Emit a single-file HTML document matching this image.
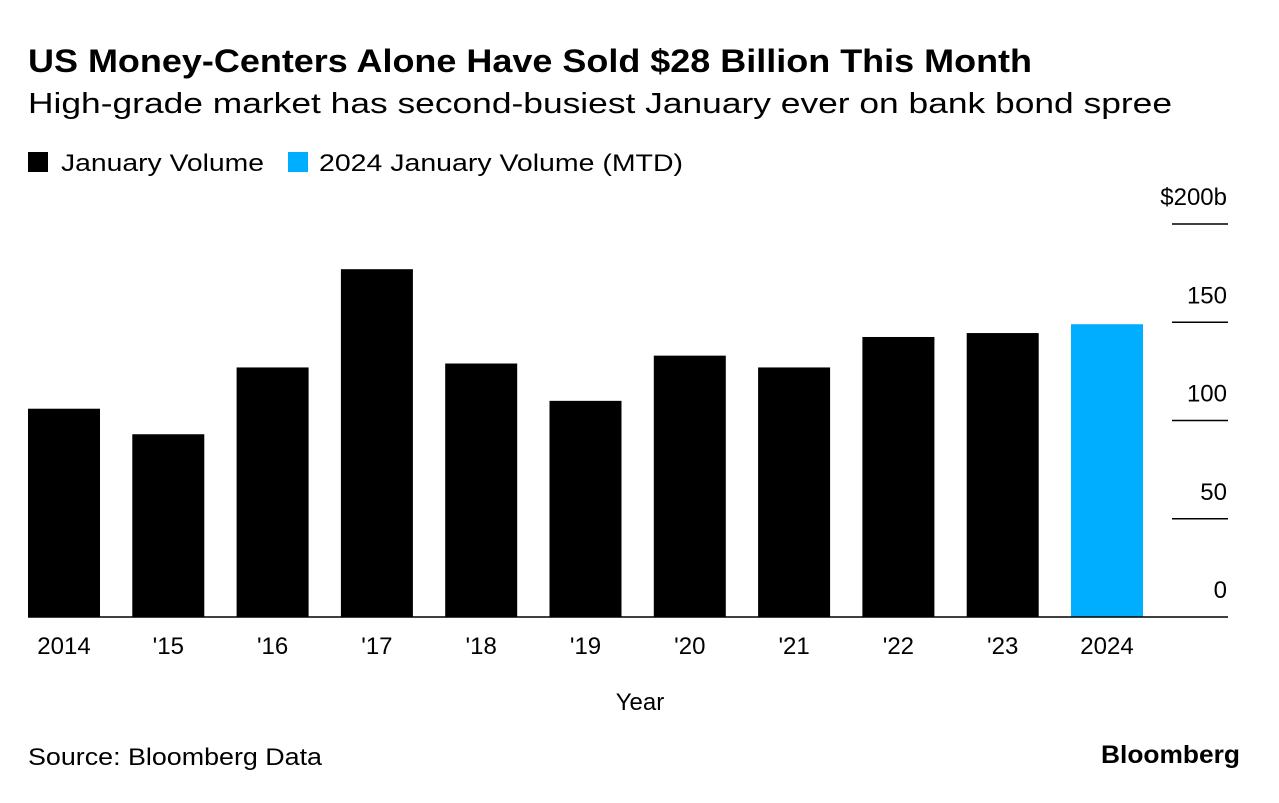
<!DOCTYPE html>
<html><head><meta charset="utf-8"><style>
body{margin:0;background:#fff;width:1279px;height:798px;overflow:hidden;font-family:"Liberation Sans",sans-serif;color:#000}
svg text{font-family:"Liberation Sans",sans-serif}
</style></head><body>
<svg width="1279" height="798">
<text x="28" y="72" font-size="32" font-weight="bold" textLength="1004" lengthAdjust="spacingAndGlyphs">US Money-Centers Alone Have Sold $28 Billion This Month</text>
<text x="28" y="113" font-size="29" textLength="1144" lengthAdjust="spacingAndGlyphs">High-grade market has second-busiest January ever on bank bond spree</text>
<g>
<rect x="28" y="152" width="20" height="20" fill="#000"/>
<text x="61" y="171" font-size="24" textLength="203" lengthAdjust="spacingAndGlyphs">January Volume</text>
<rect x="288" y="152" width="20" height="20" fill="#00aeff"/>
<text x="319" y="171" font-size="24" textLength="364" lengthAdjust="spacingAndGlyphs">2024 January Volume (MTD)</text>
</g>
<g id="plot"></g>
<text x="640" y="710" font-size="24" text-anchor="middle">Year</text>
<text x="28" y="765" font-size="24" textLength="294" lengthAdjust="spacingAndGlyphs">Source: Bloomberg Data</text>
<text x="1101" y="763" font-size="25" font-weight="bold" textLength="139" lengthAdjust="spacingAndGlyphs">Bloomberg</text>
</svg>
<script>
const categories=["2014","'15","'16","'17","'18","'19","'20","'21","'22","'23","2024"];
const values=[106,93,127,177,129,110,133,127,142.5,144.5,149];
const yTicks=[0,50,100,150,200];
const yTickLabels=["0","50","100","150","$200b"];
const NS="http://www.w3.org/2000/svg";
const g=document.getElementById('plot');
const y0=617,yTop=224,yMax=200;
const y=v=>y0-(y0-yTop)*v/yMax;
const x=i=>28+i*104.3;
const bw=72;
function mk(t,a){const e=document.createElementNS(NS,t);for(const k in a)e.setAttribute(k,a[k]);g.appendChild(e);return e;}
yTicks.forEach((t,i)=>{
 if(t>0){const l=mk('line',{x1:1172,x2:1228,y1:y(t),y2:y(t),stroke:'#000','stroke-width':1.5});
 
 }
 const tx=mk('text',{x:1227,y:y(t)-19,'font-size':24,'text-anchor':'end'});
 tx.textContent=yTickLabels[i];
 
 
});
categories.forEach((c,i)=>{
 const r=mk('rect',{x:x(i),y:y(values[i]),width:bw,height:y0-y(values[i]),fill:i===categories.length-1?'#00aeff':'#000'});
 
 
 const t=mk('text',{x:x(i)+bw/2,y:654,'font-size':24,'text-anchor':'middle'});
 t.textContent=c;
 
 
});
const ax=mk('line',{x1:28,x2:1228,y1:y0,y2:y0,stroke:'#000','stroke-width':1.5});


</script>
</body></html>
